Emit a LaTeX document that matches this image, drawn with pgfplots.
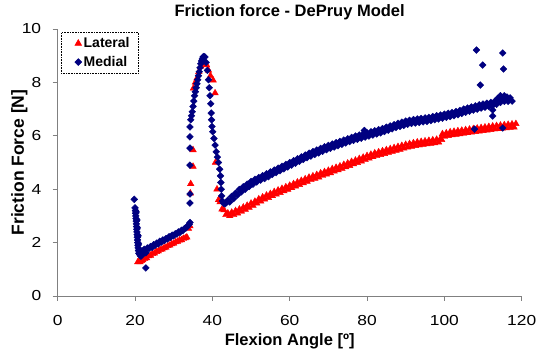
\documentclass[border=0pt]{standalone}
\usepackage{pgfplots}
\pgfplotsset{compat=1.18}
\usepackage{fontspec}
\setmainfont{Liberation Sans}
\definecolor{navyblue}{RGB}{0,0,128}
\definecolor{axgray}{RGB}{128,128,128}
\begin{document}
\begin{tikzpicture}
\path[use as bounding box] (-57.7pt,-56pt) rectangle (481.3pt,296pt);
\begin{axis}[
  scale only axis, width=464pt, height=267pt,
  xmin=0, xmax=120, ymin=0, ymax=10,
  xtick={0,20,40,60,80,100,120}, ytick={0,2,4,6,8,10},
  axis x line*=bottom, axis y line*=left,
  axis line style={axgray, line width=0.9pt, -},
  tick style={axgray, line width=0.9pt},
  tick align=outside, major tick length=5pt,
  /pgf/number format/assume math mode=true,
  ticklabel style={font=\fontsize{14.5}{17}\selectfont, xscale=1.2},
  yticklabel style={anchor=east, inner sep=0pt, xshift=-9.4pt},
  xticklabel style={anchor=north, inner sep=0pt, yshift=-14pt},
  title={Friction force - DePruy Model},
  title style={font=\bfseries\fontsize{16.5}{19}\selectfont, at={(axis description cs:0.5,1.071)}, anchor=north, inner sep=0pt},
  xlabel={Flexion Angle [º]},
  xlabel style={font=\bfseries\fontsize{16.5}{19}\selectfont, at={(axis description cs:0.5,-0.1386)}, anchor=north, inner sep=0pt},
  ylabel={Friction Force [N]},
  ylabel style={font=\bfseries\fontsize{17.5}{20}\selectfont, at={(axis description cs:-0.0647,0.5)}, anchor=south, inner sep=0pt},
  legend style={at={(axis description cs:0.0071,0.9876)}, anchor=north west, draw=black, densely dotted, line width=0.6pt,
    font=\bfseries\fontsize{14}{16}\selectfont, row sep=3pt, inner xsep=7pt, inner ysep=3pt},
  legend image code/.code={\path[draw=none] (0pt,0pt) -- (10pt,0pt); \path[#1, solid, draw=none] plot coordinates {(10pt,0pt)};},
  legend cell align=left,
]
\addplot[only marks, mark=triangle*, mark size=3.8pt, color=red] coordinates {
(20.7,1.27)(21.0,1.3)(21.3,1.27)(21.6,1.32)(22.0,1.35)(22.5,1.4)(23.0,1.42)(23.5,1.5)(24.0,1.52)(24.5,1.58)(25.0,1.6)(25.5,1.66)(26.0,1.68)(26.5,1.73)(27.0,1.75)(27.5,1.8)(28.0,1.82)(28.5,1.88)(29.0,1.9)(29.5,1.95)(30.0,1.97)(30.5,2.02)(31.0,2.04)(31.5,2.09)(32.0,2.1)(32.5,2.15)(33.0,2.17)(33.4,2.2)
(33.8,2.53)(34.2,2.62)(34.3,3.85)(34.4,4.2)(35.0,4.85)(35.0,5.47)(35.1,7.78)(35.6,8.0)(36.0,8.15)(36.5,8.4)(37.0,8.6)(37.5,8.7)(38.0,8.75)(38.5,8.65)(39.0,8.45)(39.5,8.25)(40.2,8.08)(40.7,7.6)(40.8,5.0)(41.2,4.0)(41.6,3.6)
(42,3.52)(42.5,3.25)(43,3.22)(43.5,3.04)(44,3.10)(44.5,3.0)(45,3.13)(45.5,3.04)(46,3.19)(46.5,3.10)(47,3.25)(47.5,3.17)(48,3.32)(48.5,3.24)(49,3.39)(49.5,3.31)
(50,3.47)(50.5,3.39)(51,3.54)(51.5,3.47)(52,3.63)(52.5,3.55)(53,3.70)(53.5,3.62)(54,3.77)(54.5,3.68)(55,3.83)(55.5,3.75)(56,3.90)(56.5,3.81)(57,3.96)(57.5,3.87)(58,4.02)(58.5,3.93)(59,4.08)(59.5,3.99)
(60,4.14)(60.5,4.05)(61,4.20)(61.5,4.11)(62,4.26)(62.5,4.17)(63,4.32)(63.5,4.23)(64,4.38)(64.5,4.29)(65,4.44)(65.5,4.35)(66,4.49)(66.5,4.40)(67,4.54)(67.5,4.45)(68,4.60)(68.5,4.51)(69,4.65)(69.5,4.56)
(70,4.70)(70.5,4.61)(71,4.76)(71.5,4.67)(72,4.81)(72.5,4.72)(73,4.86)(73.5,4.77)(74,4.92)(74.5,4.83)(75,4.97)(75.5,4.88)(76,5.03)(76.5,4.94)(77,5.08)(77.5,4.99)(78,5.14)(78.5,5.05)(79,5.19)(79.5,5.10)
(80,5.25)(80.5,5.16)(81,5.30)(81.5,5.21)(82,5.35)(82.5,5.25)(83,5.39)(83.5,5.29)(84,5.43)(84.5,5.33)(85,5.47)(85.5,5.37)(86,5.51)(86.5,5.41)(87,5.55)(87.5,5.45)(88,5.59)(88.5,5.49)(89,5.63)(89.5,5.53)
(90,5.67)(90.5,5.57)(91,5.70)(91.5,5.60)(92,5.73)(92.5,5.63)(93,5.76)(93.5,5.65)(94,5.78)(94.5,5.67)(95,5.80)(95.5,5.69)(96,5.82)(96.5,5.71)(97,5.84)(97.5,5.73)(98,5.86)(98.5,5.76)(99,5.89)(99.3,5.85)
(99.5,6.07)(100,5.97)(100.5,6.10)(101,6.00)(101.5,6.14)(102,6.03)(102.5,6.16)(103,6.05)(103.5,6.18)(104,6.07)(104.5,6.20)(105,6.09)(105.5,6.22)(106,6.11)(106.5,6.24)(107,6.13)(107.5,6.26)(108,6.15)(108.5,6.28)(109,6.17)
(109.5,6.30)(110,6.19)(110.5,6.32)(111,6.21)(111.5,6.34)(112,6.23)(112.5,6.36)(113,6.25)(113.5,6.375)(114,6.26)(114.5,6.39)(115,6.28)(115.5,6.405)(116,6.29)(116.5,6.42)(117,6.31)(117.5,6.435)(118,6.32)(118.5,6.45)
};
\addlegendentry{Lateral}
\addplot[only marks, mark=square*, mark size=2.4pt, mark options={rotate=45}, color=navyblue] coordinates {
(19.8,3.62)(20.0,3.3)(20.1,3.2)(20.15,3.1)(20.2,3.0)(20.25,2.9)(20.3,2.8)(20.35,2.7)(20.4,2.6)(20.45,2.5)(20.5,2.4)(20.55,2.3)(20.6,2.2)(20.65,2.1)(20.7,2.0)(20.75,1.9)(20.8,1.8)(20.9,1.7)(21.0,1.6)(21.2,1.55)(21.4,1.5)(21.6,1.5)(21.8,1.55)
(20.3,3.15)(20.5,2.85)(20.6,2.55)(20.8,2.25)(20.9,1.95)(21.1,1.75)(21.3,1.68)
(22.0,1.68)(22.4,1.75)(22.8,1.62)(23.2,1.8)(23.6,1.78)(24.0,1.85)(24.4,1.82)(24.8,1.92)(25.2,1.9)(25.6,1.98)(26.0,1.95)(26.4,2.05)(26.8,2.02)(27.2,2.1)(27.6,2.08)(28.0,2.15)(28.4,2.14)(28.8,2.22)(29.2,2.2)(29.6,2.28)(30.0,2.26)(30.4,2.33)(30.8,2.32)(31.2,2.4)(31.6,2.38)(32.0,2.46)(32.4,2.45)(32.8,2.53)(33.2,2.55)(33.6,2.62)(34.0,2.68)(34.2,2.75)
(22.8,1.05)
(34.2,3.48)(34.2,3.82)(34.2,4.9)(34.2,5.54)(34.2,5.96)(34.2,6.33)
(34.4,6.6)(34.6,6.75)(34.8,6.9)(35.0,7.1)(35.2,7.3)(35.4,7.5)(35.6,7.65)(35.8,7.8)(36.0,7.95)(36.2,8.1)(36.4,8.25)(36.6,8.4)(36.8,8.55)(37.0,8.7)(37.2,8.8)(37.4,8.88)(37.6,8.95)(37.8,8.97)(38.1,8.95)(38.4,8.75)(38.7,8.45)(39.0,8.1)(39.2,7.8)(39.4,7.5)(39.6,7.2)(39.7,6.85)(39.8,6.6)(39.9,6.35)(40.1,6.15)(40.4,5.9)(40.7,5.65)(41.0,5.4)(41.3,5.2)(41.6,5.0)(41.9,4.75)(42.1,4.5)(42.2,4.25)(42.3,4.0)(42.4,3.75)(42.6,3.55)(42.9,3.47)(43.3,3.45)(43.6,3.5)
(44,3.59)(44.5,3.52)(45,3.73)(45.5,3.65)(46,3.85)(46.5,3.78)(47,3.99)(47.5,3.90)(48,4.09)(48.5,4.00)(49,4.19)(49.5,4.10)
(50,4.29)(50.5,4.19)(51,4.37)(51.5,4.27)(52,4.44)(52.5,4.34)(53,4.51)(53.5,4.40)(54,4.58)(54.5,4.47)(55,4.65)(55.5,4.55)(56,4.72)(56.5,4.62)(57,4.79)(57.5,4.69)(58,4.86)(58.5,4.76)(59,4.93)(59.5,4.83)
(60,5.00)(60.5,4.90)(61,5.07)(61.5,4.97)(62,5.14)(62.5,5.04)(63,5.21)(63.5,5.11)(64,5.28)(64.5,5.18)(65,5.35)(65.5,5.24)(66,5.41)(66.5,5.30)(67,5.47)(67.5,5.36)(68,5.53)(68.5,5.42)(69,5.59)(69.5,5.48)
(70,5.64)(70.5,5.53)(71,5.69)(71.5,5.58)(72,5.74)(72.5,5.63)(73,5.79)(73.5,5.68)(74,5.84)(74.5,5.73)(75,5.89)(75.5,5.78)(76,5.94)(76.5,5.83)(77,5.99)(77.5,5.87)(78,6.03)(78.5,5.91)(79,6.07)(79.5,5.95)
(80,6.11)(80.5,5.99)(81,6.15)(81.5,6.03)(82,6.19)(82.5,6.07)(83,6.23)(83.5,6.11)(84,6.27)(84.5,6.16)(85,6.32)(85.5,6.21)(86,6.37)(86.5,6.26)(87,6.42)(87.5,6.31)(88,6.47)(88.5,6.35)(89,6.51)(89.5,6.39)
(90,6.55)(90.5,6.43)(91,6.58)(91.5,6.46)(92,6.61)(92.5,6.48)(93,6.63)(93.5,6.50)(94,6.65)(94.5,6.52)(95,6.67)(95.5,6.54)(96,6.69)(96.5,6.57)(97,6.72)(97.5,6.60)(98,6.75)(98.5,6.63)(99,6.78)(99.5,6.66)
(100,6.81)(100.5,6.69)(101,6.84)(101.5,6.72)(102,6.87)(102.5,6.75)(103,6.91)(103.5,6.79)(104,6.95)(104.5,6.84)(105,7.00)(105.5,6.88)(106,7.04)(106.5,6.92)(107,7.08)(107.5,6.96)(108,7.12)(108.5,7.00)(109,7.16)(109.5,7.04)
(110,7.19)(110.5,7.07)(111,7.22)(111.5,7.10)(112,7.25)(112.5,7.13)(113,7.29)(113.5,7.18)(114,7.35)(114.5,7.25)(115,7.43)(115.5,7.29)(116,7.43)(116.5,7.29)(117,7.42)(117.5,7.30)
(113.8,7.4)(114.5,7.5)(115.5,7.5)(116.2,7.45)
(79.3,6.2)(108.3,9.21)(109.9,8.65)(109.3,7.9)(115.1,9.1)(115.3,8.5)(112.5,6.97)(112.5,6.74)(107.8,6.25)(115.1,6.29)
};
\addlegendentry{Medial}
\end{axis}
\end{tikzpicture}
\end{document}
